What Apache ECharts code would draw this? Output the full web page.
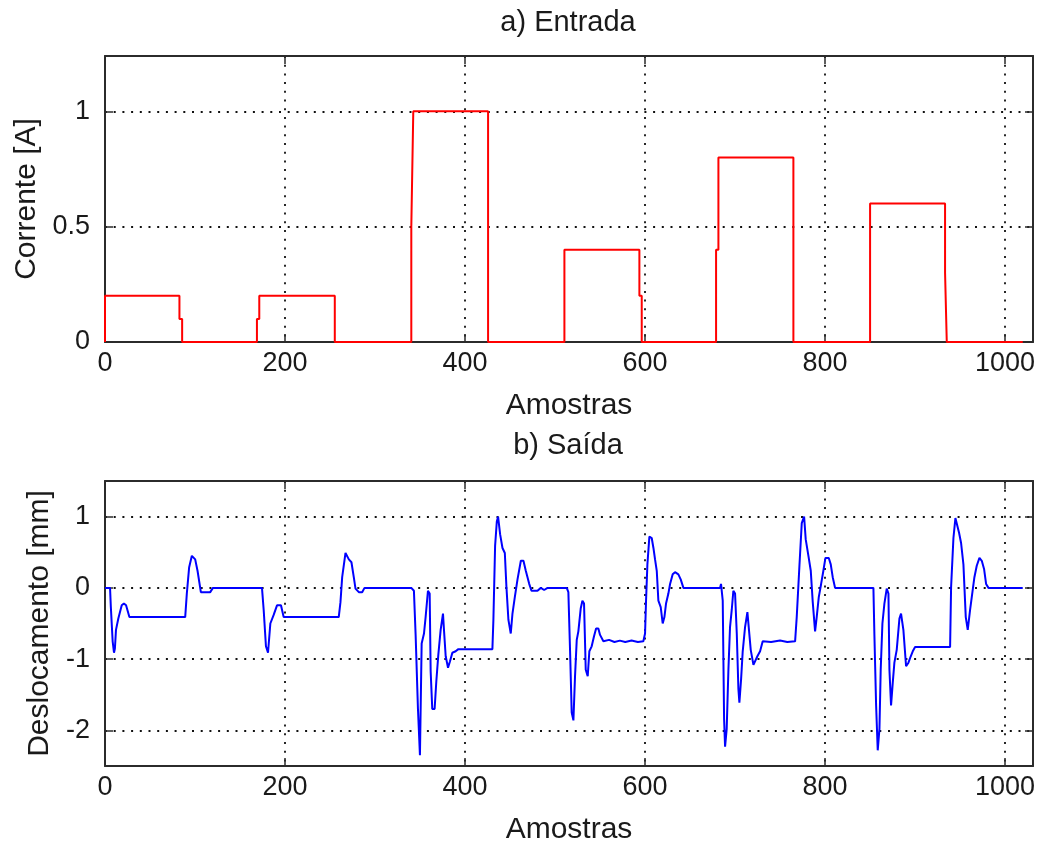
<!DOCTYPE html>
<html>
<head>
<meta charset="utf-8">
<script src="https://cdn.jsdelivr.net/npm/echarts@6/dist/echarts.min.js"></script>
<style>
  html, body { margin: 0; padding: 0; background: #ffffff; }
  #chart { width: 1041px; height: 846px; }
</style>
</head>
<body>
<div id="chart"></div>
<script>
// a) Entrada: current step input (samples, A)
const inputX = [0, 0, 82.7, 82.7, 85.7, 85.7, 168.8, 168.8, 171.4, 171.4, 255.3, 255.3,
  340.3, 340.3, 342.5, 342.5, 425.6, 425.6, 510.4, 510.4, 593.7, 593.7, 596.3, 596.3,
  678.9, 678.9, 681.5, 681.5, 764.8, 764.8, 850, 850, 933.3, 933.3, 935.2, 935.2, 1019.6];
const inputY = [0, 0.2, 0.2, 0.1, 0.1, 0, 0, 0.1, 0.1, 0.2, 0.2, 0,
  0, 0.5, 0.5, 1, 1, 0, 0, 0.4, 0.4, 0.2, 0.2, 0,
  0, 0.4, 0.4, 0.8, 0.8, 0, 0, 0.6, 0.6, 0.3, 0.3, 0, 0];

// b) Saída: measured displacement (samples, mm)
const outputX = [0, 5.6, 6.5, 8.5, 10.0, 11.0, 12.2, 14.8, 18.6, 21.0, 23.4, 27.1,
  89.1, 90.9, 93.5, 96.5, 98.5, 100.2, 102.8, 106.5, 116.9, 119.9,
  174.4, 176.3, 178.8, 181.1, 183.7, 187.4, 191.1, 195.5, 198.5,
  259.7, 261.6, 263.5, 267.2, 270.9, 273.8, 276.4, 278.3, 282.0, 285.7, 288.3,
  340.3, 343.2, 345.1, 347.7, 349.9, 351.8, 354.4, 356.2, 358.8, 360.7, 361.8, 363.6,
  366.2, 368.1, 370.3, 372.9, 375.5, 376.6, 378.5, 381.1, 383.3, 385.9, 389.6, 392.6,
  430.4, 431.5, 433.4, 435.3, 436.7, 439.0, 441.6, 444.2, 446.0, 448.2, 450.8, 452.7,
  455.3, 458.3, 462.0, 464.9, 467.5, 471.2, 473.8, 480.5, 484.2, 487.9, 491.7,
  513.0, 514.8, 516.7, 518.5, 520.4, 522.2, 524.1, 525.9, 528.5, 530.4, 532.2, 534.1,
  536.3, 538.1, 540.7, 543.3, 545.6, 548.1, 550.0, 553.7, 560.0, 566.0, 572.0, 578.0,
  585.0, 592.0, 598.1,
  600.0, 601.1, 602.6, 604.8, 607.4, 609.3, 611.1, 613.0, 614.8, 617.4, 619.6, 621.5,
  623.3, 625.9, 627.8, 630.7, 633.3, 637.0, 639.6, 642.6,
  683.3, 684.4, 686.3, 687.8, 688.9, 690.7, 692.6, 694.4, 696.3, 698.1, 700.0, 701.9,
  703.7, 704.8, 706.7, 708.5, 711.1, 713.7, 715.9, 717.4, 720.4, 722.2, 724.8, 727.8,
  730.7, 740.0, 750.0, 758.0, 766.7,
  768.5, 771.5, 774.1, 776.7, 778.5, 781.5, 784.1, 786.3, 788.9, 790.7, 793.0, 795.6,
  798.1, 800.4, 804.1, 806.3, 808.5, 811.1,
  853.7, 854.8, 856.7, 858.5, 860.4, 861.8, 863.7, 865.9, 868.5, 870.4, 871.5, 873.3,
  875.2, 877.0, 879.6, 882.6, 884.4, 887.0, 890.0, 892.6, 895.2, 897.4, 900.0,
  938.9, 940.0, 942.6, 944.8, 947.0, 948.9, 951.1, 953.7, 956.3, 958.5, 961.1, 963.7,
  965.9, 968.5, 971.5, 974.1, 976.7, 978.9, 981.5, 1019.6];
const outputY = [0, 0, -0.27, -0.75, -0.91, -0.85, -0.59, -0.43, -0.245, -0.22, -0.245, -0.41,
  -0.41, -0.08, 0.29, 0.45, 0.44, 0.40, 0.24, -0.06, -0.06, 0,
  0, -0.31, -0.82, -0.91, -0.5, -0.38, -0.245, -0.245, -0.41,
  -0.41, -0.2, 0.15, 0.49, 0.4, 0.36, 0.15, -0.01, -0.06, -0.06, 0,
  0, -0.04, -0.66, -1.7, -2.35, -0.78, -0.64, -0.41, -0.04, -0.08, -1.17, -1.7,
  -1.7, -1.31, -0.94, -0.59, -0.36, -0.59, -0.96, -1.12, -1.03, -0.91, -0.89, -0.86,
  -0.86, -0.45, 0.59, 0.93, 1.0, 0.75, 0.56, 0.49, 0.01, -0.45, -0.64, -0.36,
  -0.13, 0.12, 0.38, 0.38, 0.24, 0.06, -0.04, -0.04, 0, -0.03, 0,
  0, -0.06, -0.89, -1.75, -1.86, -1.24, -0.73, -0.61, -0.29, -0.18, -0.22, -1.15,
  -1.24, -0.89, -0.82, -0.68, -0.57, -0.57, -0.66, -0.75, -0.73, -0.76, -0.74, -0.76,
  -0.74, -0.76, -0.75,
  -0.64, -0.18, 0.33, 0.72, 0.70, 0.56, 0.40, 0.24, -0.18, -0.27, -0.5, -0.41,
  -0.22, -0.08, 0.055, 0.19, 0.22, 0.19, 0.12, 0,
  0, 0.055, -0.18, -1.84, -2.23, -1.98, -1.15, -0.55, -0.31, -0.04, -0.08, -0.64,
  -1.42, -1.61, -1.28, -0.89, -0.55, -0.34, -0.36, -0.87, -1.08, -1.1, -0.96, -0.89,
  -0.75, -0.76, -0.74, -0.76, -0.75,
  -0.41, 0.31, 0.91, 1.0, 0.68, 0.45, 0.24, -0.2, -0.61, -0.41, -0.13, 0.055,
  0.24, 0.42, 0.42, 0.33, 0.15, 0,
  0, -0.66, -1.65, -2.28, -1.98, -1.15, -0.5, -0.22, -0.01, -0.08, -1.15, -1.65,
  -1.33, -1.05, -0.87, -0.43, -0.36, -0.59, -1.1, -1.05, -0.96, -0.89, -0.83,
  -0.83, 0.01, 0.70, 0.98, 1.0, 0.77, 0.63, 0.33, -0.41, -0.59, -0.31, -0.06,
  0.15, 0.31, 0.42, 0.38, 0.26, 0.055, 0, 0];

// tick positions
const sampleTicks = [0, 200, 400, 600, 800, 1000];
const currentTicks = [0, 0.5, 1];
const displacementTicks = [-2, -1, 0, 1];

const FONT = 'Liberation Sans';
const INK = '#1a1a1a';
const FRAME = '#2b2b2b';

function pairs(xs, ys) {
  return xs.map((x, i) => [x, ys[i]]);
}

// plain numbers, no thousands separator
const plain = v => String(v);

// One side of the boxed axes: ticks point inward, labels only on bottom/left
function xSide(gridIndex, position, withLabels, name) {
  return {
    type: 'value', gridIndex, position, min: 0, max: 1031,
    axisLine: { show: true, onZero: false, lineStyle: { color: FRAME, width: 2 } },
    axisTick: { show: true, inside: true, length: 8, customValues: sampleTicks,
      lineStyle: { color: FRAME, width: 1.5 } },
    axisLabel: { show: withLabels, customValues: sampleTicks, margin: 8, formatter: plain,
      fontFamily: FONT, fontSize: 27, color: INK },
    splitLine: { show: withLabels,
      lineStyle: { color: '#111', width: 1.8, type: [2, 6.7] } },
    name: name || '', nameLocation: 'middle', nameGap: 49,
    nameTextStyle: { fontFamily: FONT, fontSize: 30, color: INK }
  };
}

function ySide(gridIndex, position, min, max, ticks, withLabels, name, gap) {
  return {
    type: 'value', gridIndex, position, min, max,
    axisLine: { show: true, onZero: false, lineStyle: { color: FRAME, width: 2 } },
    axisTick: { show: true, inside: true, length: 8, customValues: ticks,
      lineStyle: { color: FRAME, width: 1.5 } },
    axisLabel: { show: withLabels, customValues: ticks, margin: 15, formatter: plain,
      fontFamily: FONT, fontSize: 27, color: INK },
    splitLine: { show: withLabels,
      lineStyle: { color: '#111', width: 1.8, type: [2, 6.7] } },
    name: name || '', nameLocation: 'middle', nameGap: gap || 0,
    nameTextStyle: { fontFamily: FONT, fontSize: 30, color: INK }
  };
}

const chart = echarts.init(document.getElementById('chart'), null, { renderer: 'canvas' });

chart.setOption({
  animation: false,
  backgroundColor: '#ffffff',
  title: [
    { text: 'a) Entrada', left: 568, top: 8, textAlign: 'center', padding: 0,
      textStyle: { fontFamily: FONT, fontSize: 29, fontWeight: 'normal', color: INK } },
    { text: 'b) Saída', left: 568, top: 431, textAlign: 'center', padding: 0,
      textStyle: { fontFamily: FONT, fontSize: 29, fontWeight: 'normal', color: INK } }
  ],
  grid: [
    { left: 105, right: 8, top: 56, height: 286 },
    { left: 105, right: 8, top: 481, height: 285 }
  ],
  xAxis: [
    xSide(0, 'bottom', true, 'Amostras'),
    xSide(0, 'top', false),
    xSide(1, 'bottom', true, 'Amostras'),
    xSide(1, 'top', false)
  ],
  yAxis: [
    ySide(0, 'left', 0, 1.24, currentTicks, true, 'Corrente [A]', 63),
    ySide(0, 'right', 0, 1.24, currentTicks, false),
    ySide(1, 'left', -2.5, 1.5, displacementTicks, true, 'Deslocamento [mm]', 47),
    ySide(1, 'right', -2.5, 1.5, displacementTicks, false)
  ],
  series: [
    {
      type: 'line', xAxisIndex: 0, yAxisIndex: 0,
      data: pairs(inputX, inputY),
      showSymbol: false, symbol: 'none',
      lineStyle: { color: '#ff0000', width: 2 },
      clip: true
    },
    {
      type: 'line', xAxisIndex: 2, yAxisIndex: 2,
      data: pairs(outputX, outputY),
      showSymbol: false, symbol: 'none',
      lineStyle: { color: '#0000ff', width: 2 },
      clip: true
    }
  ]
});
</script>
</body>
</html>
